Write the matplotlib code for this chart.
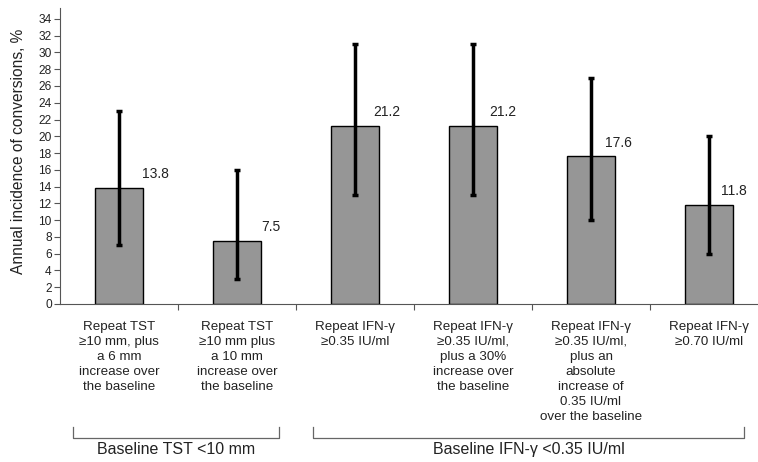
import numpy as np
import matplotlib
matplotlib.use("Agg")
import matplotlib.pyplot as plt
import matplotlib.transforms as mtransforms

plt.rcParams['font.family'] = ['Liberation Sans', 'DejaVu Sans']

categories = [
    "Repeat TST\n\u226510 mm, plus\na 6 mm\nincrease over\nthe baseline",
    "Repeat TST\n\u226510 mm plus\na 10 mm\nincrease over\nthe baseline",
    "Repeat IFN-\u03b3\n\u22650.35 IU/ml",
    "Repeat IFN-\u03b3\n\u22650.35 IU/ml,\nplus a 30%\nincrease over\nthe baseline",
    "Repeat IFN-\u03b3\n\u22650.35 IU/ml,\nplus an\nabsolute\nincrease of\n0.35 IU/ml\nover the baseline",
    "Repeat IFN-\u03b3\n\u22650.70 IU/ml",
]
values = [13.8, 7.5, 21.2, 21.2, 17.6, 11.8]
ci_low = [7, 3, 13, 13, 10, 6]
ci_high = [23, 16, 31, 31, 27, 20]

groups = ["Baseline TST <10 mm", "Baseline IFN-\u03b3 <0.35 IU/ml"]
group_spans = [(-0.39, 1.36), (1.64, 5.30)]

x = np.arange(len(values))
vals = np.array(values)
yerr = [vals - np.array(ci_low), np.array(ci_high) - vals]

fig = plt.figure(figsize=(7.58, 4.62), dpi=100)
ax = fig.add_axes([60 / 758, 158 / 462, 708 / 758, 296 / 462])

ax.bar(x, vals, width=0.4, color="#969696", edgecolor="black", linewidth=1)
ax.errorbar(x, vals, yerr=yerr, fmt="none", ecolor="black",
            elinewidth=2.5, capsize=2, capthick=2.5)

# value labels sit a bit right of each bar, drifting left slightly
for xi, v in zip(x, vals):
    ax.text(xi + 0.31 - 0.02 * xi, v + 1.65, f"{v:.1f}", ha="center",
            va="center", fontsize=10, color="#222222")

ax.set_xlim(-0.5, 5.5)
ax.set_ylim(0, 35.3)
ax.set_yticks(np.arange(0, 35, 2))
ax.set_xticks(np.arange(0.5, 5.5, 1))
ax.set_xticklabels([])
ax.tick_params(axis="y", direction="out", length=4, width=0.8,
               colors="#555555", labelcolor="#222222", labelsize=8.6, pad=2)
ax.tick_params(axis="x", direction="out", length=4, width=0.8, colors="#555555")
for s in ["top", "right"]:
    ax.spines[s].set_visible(False)
for s in ["left", "bottom"]:
    ax.spines[s].set_color("#555555")
    ax.spines[s].set_linewidth(0.8)

ax.set_ylabel("Annual incidence of conversions, %", fontsize=11.2,
              color="#222222", labelpad=6)
ax.yaxis.set_label_coords(-0.048, 0.515)

trans = mtransforms.blended_transform_factory(ax.transData, ax.transAxes)
for xi, lab in zip(x, categories):
    ax.text(xi, -0.057, lab, transform=trans, ha="center", va="top",
            fontsize=9.6, color="#222222", linespacing=1.33)

for (x0, x1), g in zip(group_spans, groups):
    ax.plot([x0, x0, x1, x1], [-0.416, -0.453, -0.453, -0.416],
            transform=trans, color="#666666", linewidth=0.9, clip_on=False)
    ax.text((x0 + x1) / 2, -0.49, g, transform=trans, ha="center",
            va="center", fontsize=11.5, color="#222222")

fig.savefig("out.png", dpi=100)
